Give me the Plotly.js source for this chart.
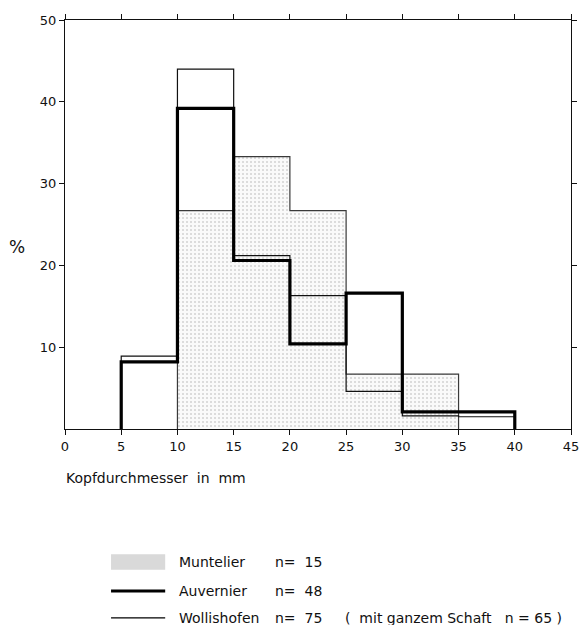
<!DOCTYPE html>
<html>
<head>
<meta charset="utf-8">
<script src="https://cdn.plot.ly/plotly-3.0.1.min.js"></script>
<style>html,body{margin:0;padding:0;background:#fff;}#chart{width:581px;height:625px;}</style>
</head>
<body>
<div id="chart"></div>
<script>
// Bin edges (mm) and percentages
const muntelierEdges = [10, 15, 20, 25, 30, 35];
const muntelierValues = [26.7, 33.3, 26.7, 6.7, 6.7];

const auvernierEdges = [5, 10, 15, 20, 25, 30, 35, 40];
const auvernierValues = [8.2, 39.2, 20.6, 10.4, 16.6, 2.1, 2.1];

const wollishofenEdges = [5, 10, 15, 20, 25, 30, 35, 40];
const wollishofenValues = [8.9, 44.0, 21.2, 16.3, 4.6, 1.6, 1.5];

const xTicks = [0, 5, 10, 15, 20, 25, 30, 35, 40, 45];
const yTicks = [10, 20, 30, 40, 50];

const legendNames = ["Muntelier", "Auvernier", "Wollishofen"];
const legendN = ["n=  15", "n=  48", "n=  75"];
const legendExtra = "(  mit ganzem Schaft   n = 65 )";

function stepXY(edges, vals) {
  const x = [edges[0]], y = [0];
  for (let i = 0; i < vals.length; i++) { x.push(edges[i]); y.push(vals[i]); }
  x.push(edges[edges.length - 1]); y.push(vals[vals.length - 1]);
  x.push(edges[edges.length - 1]); y.push(0);
  return {x, y};
}

const m = stepXY(muntelierEdges, muntelierValues);
const a = stepXY(auvernierEdges, auvernierValues);
const w = stepXY(wollishofenEdges, wollishofenValues);

const traces = [
  {x: m.x, y: m.y, mode: 'lines', line: {shape: 'hv', color: '#3a3a3a', width: 1.2},
   fill: 'tozeroy', fillcolor: '#f6f6f6',
   fillpattern: {shape: '.', fgcolor: '#d2d2d2', bgcolor: '#fafafa', size: 4, solidity: 0.2},
   name: 'Muntelier', showlegend: false, hoverinfo: 'skip'},
  {x: w.x, y: w.y, mode: 'lines', line: {shape: 'hv', color: '#111', width: 1.2},
   name: 'Wollishofen', showlegend: false, hoverinfo: 'skip'},
  {x: a.x, y: a.y, mode: 'lines', line: {shape: 'hv', color: '#000', width: 3.2},
   name: 'Auvernier', showlegend: false, hoverinfo: 'skip'}
];

const font = "'DejaVu Sans', 'Noto Sans', sans-serif";
const txt = {size: 14, color: '#111', family: font};

const annotations = [
  {text: '%', xref: 'paper', yref: 'paper', x: -0.095, y: 0.445, xanchor: 'center', yanchor: 'middle',
   showarrow: false, font: {size: 17, color: '#111', family: font}},
  {text: 'Kopfdurchmesser  in  mm', xref: 'paper', yref: 'paper', x: -0.002, y: -0.12, xanchor: 'left', yanchor: 'middle',
   showarrow: false, font: txt}
];
const legendY = [-0.325, -0.396, -0.462];
const sx0 = 0.091, sx1 = 0.198;
const shapes = [
  {type: 'rect', xref: 'paper', yref: 'paper', x0: sx0, x1: sx1, y0: legendY[0] - 0.019, y1: legendY[0] + 0.019,
   fillcolor: '#d9d9d9', line: {width: 0}},
  {type: 'line', xref: 'paper', yref: 'paper', x0: sx0, x1: sx1, y0: legendY[1], y1: legendY[1],
   line: {color: '#000', width: 3}},
  {type: 'line', xref: 'paper', yref: 'paper', x0: sx0, x1: sx1, y0: legendY[2], y1: legendY[2],
   line: {color: '#000', width: 1.2}}
];
for (let i = 0; i < 3; i++) {
  annotations.push({text: legendNames[i], xref: 'paper', yref: 'paper', x: 0.221, y: legendY[i],
    xanchor: 'left', yanchor: 'middle', showarrow: false, font: txt});
  annotations.push({text: legendN[i], xref: 'paper', yref: 'paper', x: 0.411, y: legendY[i],
    xanchor: 'left', yanchor: 'middle', showarrow: false, font: txt});
}
annotations.push({text: legendExtra, xref: 'paper', yref: 'paper', x: 0.549, y: legendY[2],
  xanchor: 'left', yanchor: 'middle', showarrow: false, font: {size: 14, color: '#111', family: font}});

const layout = {
  width: 581, height: 625,
  margin: {l: 65, r: 10, t: 20, b: 196},
  paper_bgcolor: '#fff', plot_bgcolor: '#fff',
  showlegend: false,
  xaxis: {range: [0, 45], tickvals: xTicks, ticktext: xTicks.map(String), ticks: 'outside', ticklen: 5,
    tickcolor: '#111', showline: true, linecolor: '#111', linewidth: 1, mirror: 'ticks', showgrid: false,
    zeroline: false, tickfont: {size: 13, color: '#111', family: font}, fixedrange: true},
  yaxis: {range: [0, 50], tickvals: yTicks, ticktext: yTicks.map(String), ticks: 'outside', ticklen: 5,
    tickcolor: '#111', showline: true, linecolor: '#111', linewidth: 1, mirror: 'ticks', showgrid: false,
    zeroline: false, tickfont: {size: 13, color: '#111', family: font}, fixedrange: true},
  annotations: annotations,
  shapes: shapes
};

Plotly.newPlot('chart', traces, layout, {staticPlot: true, displayModeBar: false});
</script>
</body>
</html>
